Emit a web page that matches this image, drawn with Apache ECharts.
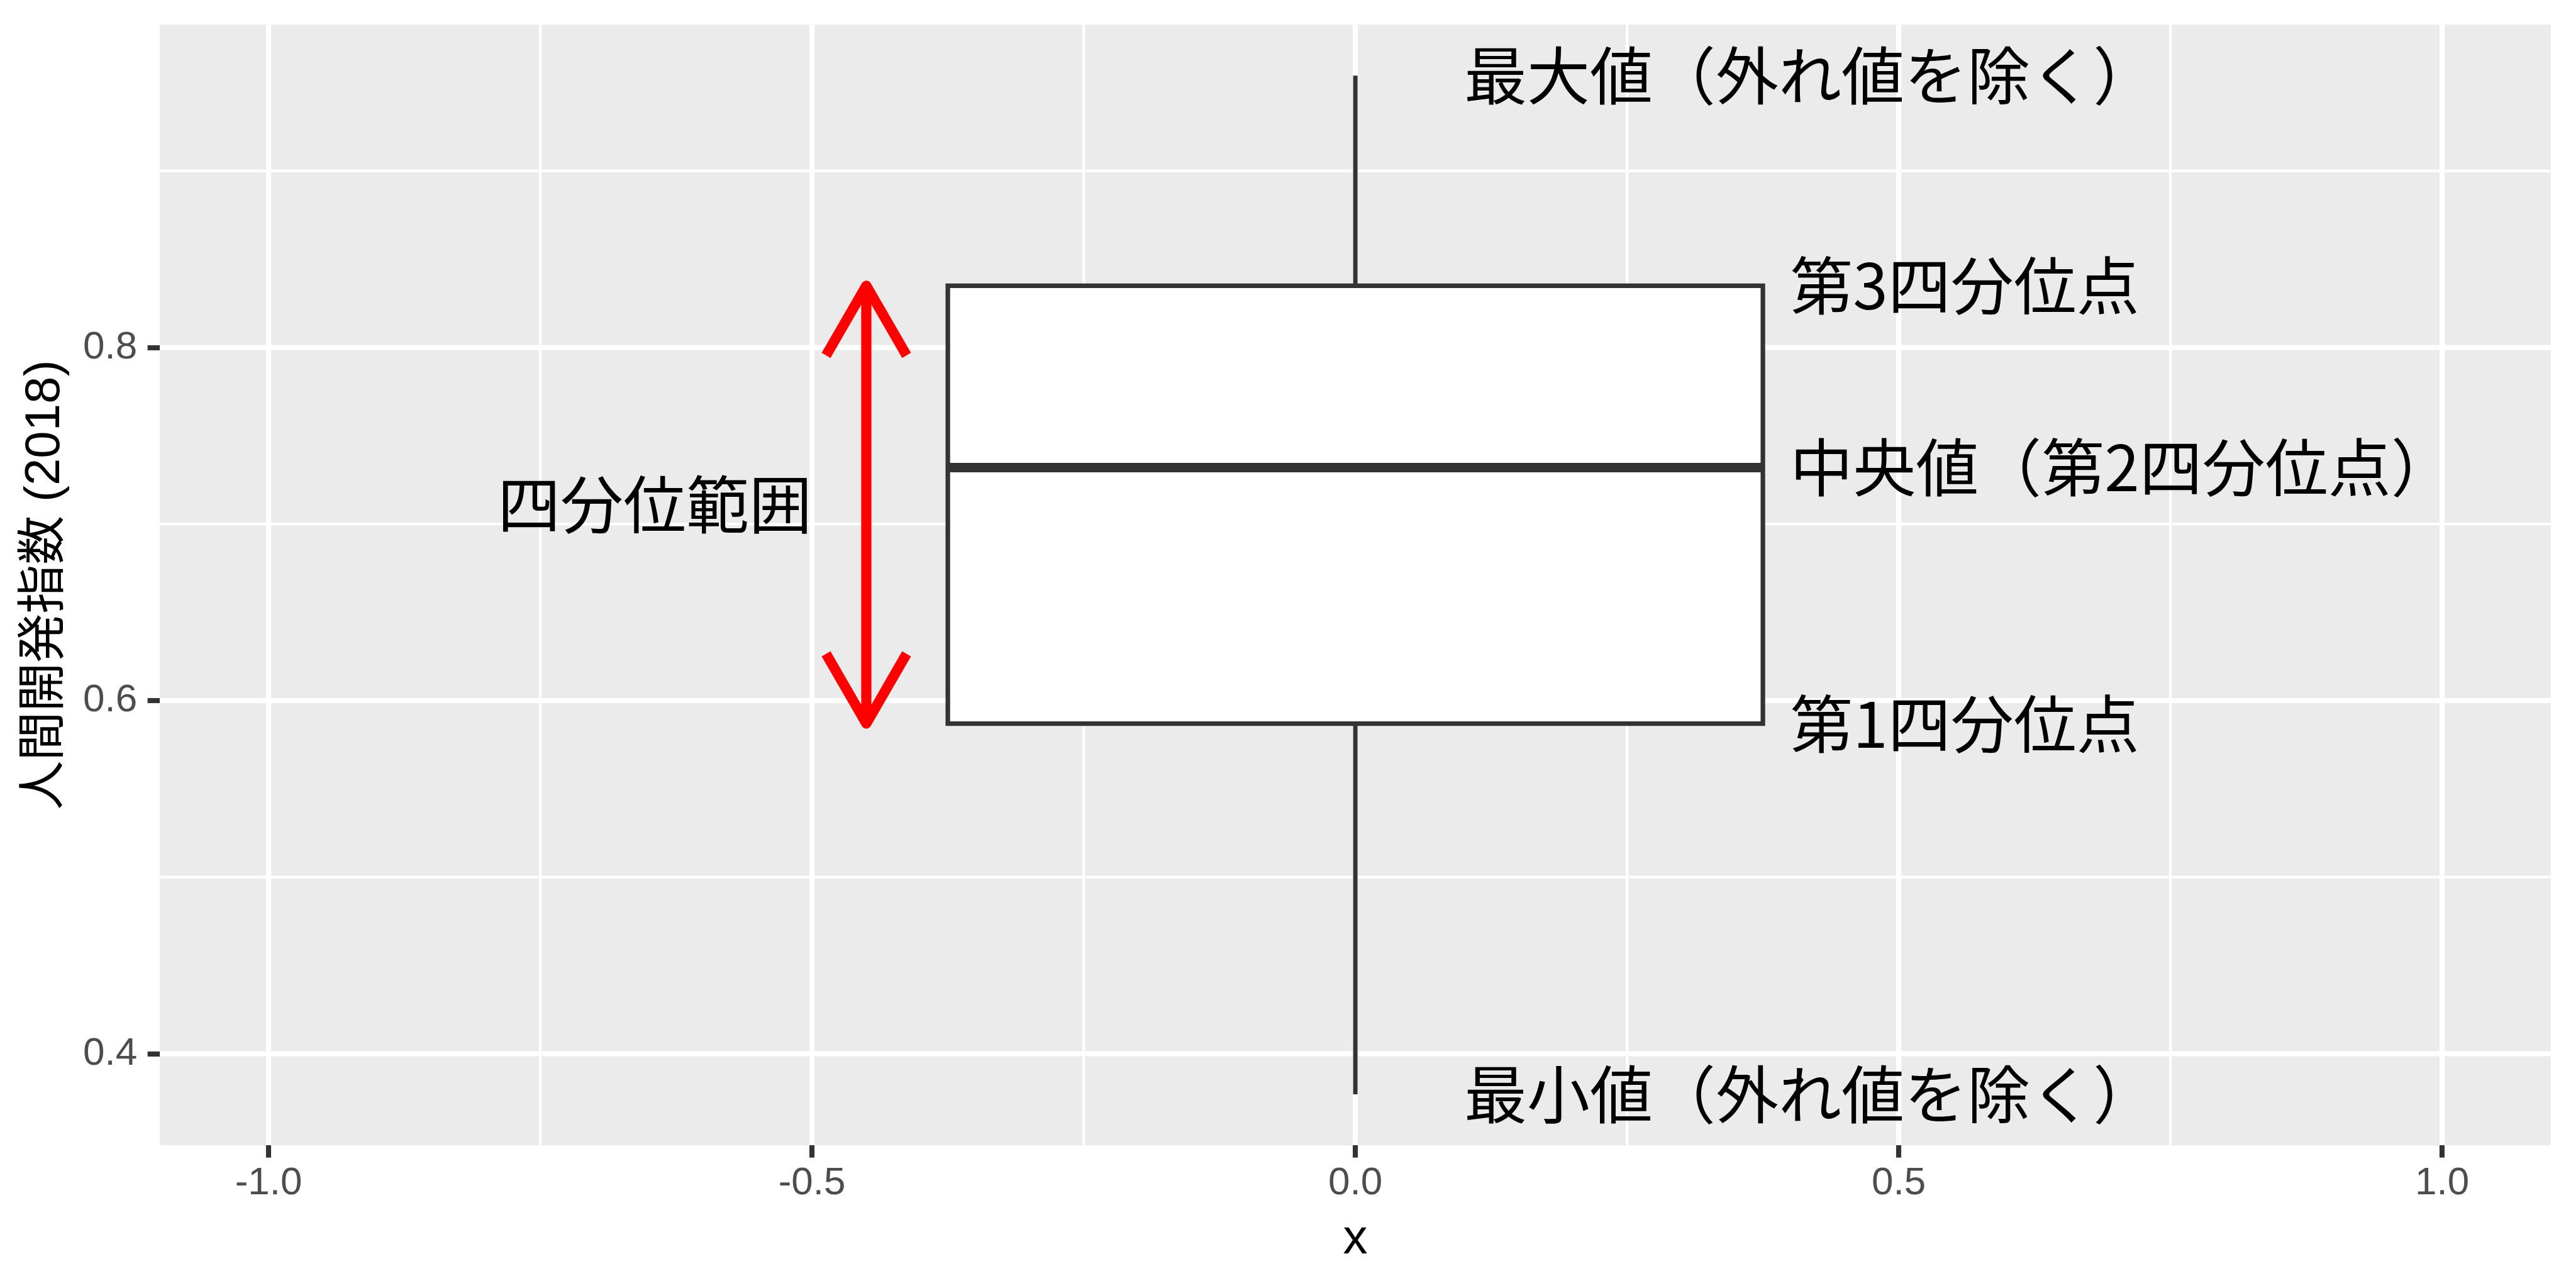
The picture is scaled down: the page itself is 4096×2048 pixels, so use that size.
<!DOCTYPE html>
<html>
<head>
<meta charset="utf-8">
<script src="https://cdn.jsdelivr.net/npm/echarts@6/dist/echarts.min.js"></script>
<style>
html,body{margin:0;padding:0;background:#ffffff;}
#chart{width:4096px;height:2048px;}
</style>
</head>
<body>
<div id="chart"></div>
<script>
// ---------------- data ----------------
const boxCenters  = [0];
const whiskerLow  = [0.377];
const quartile1   = [0.587];
const medians     = [0.732];
const quartile3   = [0.835];
const whiskerHigh = [0.954];

const arrowX    = [-0.45];
const arrowFrom = [0.587];
const arrowTo   = [0.835];

const noteTexts = ['最大値（外れ値を除く）', '第3四分位点', '中央値（第2四分位点）', '第1四分位点', '最小値（外れ値を除く）', '四分位範囲'];
const noteX     = [0.1, 0.4, 0.4, 0.4, 0.1, -0.5];
const noteY     = [0.954, 0.835, 0.732, 0.587, 0.377, 0.711];
const noteAlign = ['left', 'left', 'left', 'left', 'left', 'right'];

const xLimits       = [-1, 1];
const xTickValues   = [-1.0, -0.5, 0.0, 0.5, 1.0];
const xMinorValues  = [-0.75, -0.25, 0.25, 0.75];
const yTickValues   = [0.4, 0.6, 0.8];
const yMinorValues  = [0.5, 0.7, 0.9];
const xAxisTitle = 'x';
const yAxisTitle = '人間開発指数 (2018)';

// ---------------- styling ----------------
const S = 4096 / 4800;
const BOX_HALF = 0.375;
const INK = '#333333';
const CJK = '"Noto Sans CJK JP", sans-serif';
const LATIN = '"Liberation Sans", Arial, "Noto Sans CJK JP", sans-serif';

// ggplot-style 5% expansion of ranges
const yLo = Math.min.apply(null, whiskerLow), yHi = Math.max.apply(null, whiskerHigh);
const yPad = (yHi - yLo) * 0.05;
const yMin = yLo - yPad, yMax = yHi + yPad;
const xPad = (xLimits[1] - xLimits[0]) * 0.05;
const xMin = xLimits[0] - xPad, xMax = xLimits[1] + xPad;

const chart = echarts.init(document.getElementById('chart'), null, {renderer: 'canvas'});

function vGridSeries(values, width) {
  return {
    type: 'custom', z: 1, silent: true, clip: false,
    data: values.map(v => [v, yMin]),
    renderItem: function (params, api) {
      const cs = params.coordSys;
      const p = api.coord([api.value(0), api.value(1)]);
      return {type: 'line', shape: {x1: p[0], y1: cs.y, x2: p[0], y2: cs.y + cs.height},
              style: {stroke: '#ffffff', lineWidth: width}};
    }
  };
}
function hGridSeries(values, width) {
  return {
    type: 'custom', z: 1, silent: true, clip: false,
    data: values.map(v => [xMin, v]),
    renderItem: function (params, api) {
      const cs = params.coordSys;
      const p = api.coord([api.value(0), api.value(1)]);
      return {type: 'line', shape: {x1: cs.x, y1: p[1], x2: cs.x + cs.width, y2: p[1]},
              style: {stroke: '#ffffff', lineWidth: width}};
    }
  };
}

const boxData = boxCenters.map((c, i) => [c, whiskerLow[i], quartile1[i], medians[i], quartile3[i], whiskerHigh[i]]);
const arrowData = arrowX.map((x, i) => [x, arrowFrom[i], arrowTo[i]]);
const noteData = noteTexts.map((t, i) => [noteX[i], noteY[i], i]);

const majorW = 9.5 * S, minorW = 5 * S;

const option = {
  animation: false,
  backgroundColor: '#ffffff',
  grid: {
    left: 298 * S, right: 4800 * S - 4753 * S, top: 46 * S, bottom: 2400 * S - 2134 * S,
    show: true, backgroundColor: '#EBEBEB', borderWidth: 0, containLabel: false
  },
  xAxis: {
    type: 'value', min: xMin, max: xMax,
    name: xAxisTitle, nameLocation: 'middle', nameGap: 111,
    nameTextStyle: {color: '#000000', fontSize: 78, fontFamily: LATIN, lineHeight: 78},
    axisLine: {show: false, onZero: false},
    axisTick: {show: true, customValues: xTickValues, length: 23 * S, lineStyle: {color: INK, width: 9.5 * S}},
    axisLabel: {show: true, customValues: xTickValues, margin: 30, color: '#4D4D4D', fontSize: 62,
                fontFamily: LATIN, lineHeight: 62, formatter: v => Number(v).toFixed(1)},
    splitLine: {show: false}, minorSplitLine: {show: false}
  },
  yAxis: {
    type: 'value', min: yMin, max: yMax,
    name: yAxisTitle, nameLocation: 'middle', nameGap: 143, nameRotate: 90,
    nameTextStyle: {color: '#000000', fontSize: 78, fontFamily: LATIN, lineHeight: 78},
    axisLine: {show: false, onZero: false},
    axisTick: {show: true, customValues: yTickValues, length: 23 * S, lineStyle: {color: INK, width: 9.5 * S}},
    axisLabel: {show: true, customValues: yTickValues, margin: 36, color: '#4D4D4D', fontSize: 62,
                fontFamily: LATIN, formatter: v => Number(v).toFixed(1)},
    splitLine: {show: false}, minorSplitLine: {show: false}
  },
  series: [
    vGridSeries(xMinorValues, minorW),
    hGridSeries(yMinorValues, minorW),
    vGridSeries(xTickValues, majorW),
    hGridSeries(yTickValues, majorW),
    {
      type: 'custom', z: 2, silent: true, clip: false,
      data: boxData,
      encode: {x: 0, y: [1, 2, 3, 4, 5]},
      renderItem: function (params, api) {
        const x = api.value(0);
        const lo = api.value(1), qa = api.value(2), md = api.value(3), qb = api.value(4), hi = api.value(5);
        const tl = api.coord([x - BOX_HALF, qb]);
        const br = api.coord([x + BOX_HALF, qa]);
        const cHi = api.coord([x, hi]), cQb = api.coord([x, qb]), cQa = api.coord([x, qa]), cLo = api.coord([x, lo]);
        const mL = api.coord([x - BOX_HALF, md]), mR = api.coord([x + BOX_HALF, md]);
        const lw = 8.5 * S;
        return {type: 'group', children: [
          {type: 'line', shape: {x1: cHi[0], y1: cHi[1], x2: cQb[0], y2: cQb[1]}, style: {stroke: INK, lineWidth: 8.2 * S, lineCap: 'butt'}},
          {type: 'line', shape: {x1: cQa[0], y1: cQa[1], x2: cLo[0], y2: cLo[1]}, style: {stroke: INK, lineWidth: 8.2 * S, lineCap: 'butt'}},
          {type: 'rect', shape: {x: tl[0], y: tl[1], width: br[0] - tl[0], height: br[1] - tl[1]},
           style: {fill: '#ffffff', stroke: INK, lineWidth: lw, lineJoin: 'miter'}},
          {type: 'line', shape: {x1: mL[0], y1: mL[1], x2: mR[0], y2: mR[1]}, style: {stroke: INK, lineWidth: 17.7 * S, lineCap: 'butt'}}
        ]};
      }
    },
    {
      type: 'custom', z: 3, silent: true, clip: false,
      data: arrowData,
      encode: {x: 0, y: [1, 2]},
      renderItem: function (params, api) {
        const x = api.value(0);
        const a = api.coord([x, api.value(1)]);
        const b = api.coord([x, api.value(2)]);
        const L = 150 * S, ang = Math.PI / 6;
        const lw = 19 * S;
        function head(tip, from) {
          const dx = tip[0] - from[0], dy = tip[1] - from[1];
          const len = Math.sqrt(dx * dx + dy * dy);
          const ux = dx / len, uy = dy / len;
          const c = Math.cos(ang), s = Math.sin(ang);
          const w1 = [tip[0] - L * (ux * c - uy * s), tip[1] - L * (uy * c + ux * s)];
          const w2 = [tip[0] - L * (ux * c + uy * s), tip[1] - L * (uy * c - ux * s)];
          return {type: 'polyline', shape: {points: [w1, tip, w2]},
                  style: {stroke: '#FF0000', lineWidth: lw, fill: null, lineJoin: 'round', lineCap: 'butt'}};
        }
        return {type: 'group', children: [
          {type: 'line', shape: {x1: a[0], y1: a[1], x2: b[0], y2: b[1]}, style: {stroke: '#FF0000', lineWidth: lw, lineCap: 'butt'}},
          head(b, a),
          head(a, b)
        ]};
      }
    },
    {
      type: 'custom', z: 4, silent: true, clip: false,
      data: noteData,
      renderItem: function (params, api) {
        const i = api.value(2);
        const p = api.coord([api.value(0), api.value(1)]);
        return {type: 'text', x: p[0], y: p[1],
                style: {text: noteTexts[i], fill: '#000000', fontSize: 100, fontFamily: CJK,
                        align: noteAlign[i], verticalAlign: 'middle'}};
      }
    }
  ]
};
chart.setOption(option);
</script>
</body>
</html>
